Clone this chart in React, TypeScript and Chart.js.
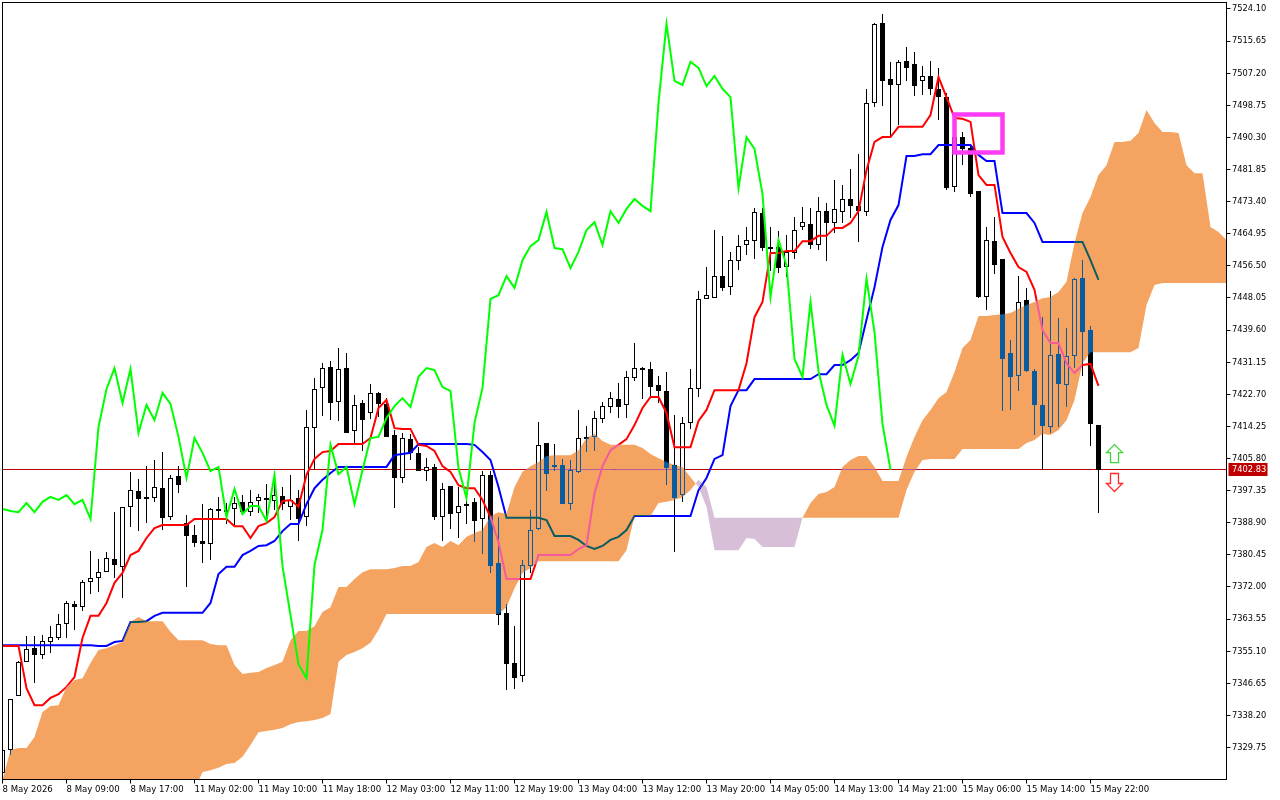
import { useEffect, useRef } from "react";
import Chart from "chart.js/auto";

const xTickLabels = [
  "8 May 2026", "8 May 09:00", "8 May 17:00", "11 May 02:00", "11 May 10:00", "11 May 18:00",
  "12 May 03:00", "12 May 11:00", "12 May 19:00", "13 May 04:00", "13 May 12:00", "13 May 20:00",
  "14 May 05:00", "14 May 13:00", "14 May 21:00", "15 May 06:00", "15 May 14:00", "15 May 22:00",
];
const priceTicks = [
  7524.1, 7515.65, 7507.2, 7498.75, 7490.3, 7481.85, 7473.4, 7464.95, 7456.5, 7448.05, 7439.6, 7431.15,
  7422.7, 7414.25, 7405.8, 7397.35, 7388.9, 7380.45, 7372.0, 7363.55, 7355.1, 7346.65, 7338.2, 7329.75,
];
const lastPrice = 7402.83;

const opens = [
  7323.0, 7329.1, 7343.3, 7352.3, 7355.9, 7354.1, 7357.5, 7358.6, 7362.3, 7367.5, 7366.7, 7373.3, 7374.4, 7375.9, 7379.4, 7377.3,
  7393.1, 7397.3, 7395.7, 7395.4, 7398.0, 7390.4, 7401.2, 7388.8, 7385.7, 7384.1, 7383.3, 7392.5, 7392.3, 7392.5, 7394.4, 7391.7,
  7394.6, 7395.4, 7394.6, 7395.9, 7393.1, 7395.4, 7390.4, 7413.8, 7424.4, 7429.9, 7420.7, 7429.6, 7413.1, 7420.4, 7417.8, 7423.1,
  7420.2, 7412.0, 7400.7, 7410.9, 7407.3, 7402.5, 7403.6, 7390.4, 7398.6, 7391.5, 7393.8, 7394.4, 7389.9, 7401.5, 7378.3, 7365.2,
  7352.0, 7348.6, 7377.5, 7387.3, 7409.9, 7404.1, 7404.1, 7393.8, 7402.3, 7410.9, 7411.5, 7416.2, 7419.4, 7421.5, 7419.9, 7427.0,
  7429.6, 7429.4, 7425.2, 7423.6, 7404.1, 7396.2, 7415.2, 7424.1, 7447.8, 7448.0, 7453.8, 7450.9, 7457.8, 7462.0, 7463.0, 7470.4,
  7461.5, 7461.5, 7456.2, 7459.9, 7466.7, 7467.5, 7462.0, 7470.9, 7467.8, 7470.7, 7474.1, 7472.3, 7470.7, 7499.4, 7520.4, 7505.7,
  7504.1, 7510.4, 7509.6, 7505.2, 7506.5, 7503.1, 7500.9, 7477.3, 7490.4, 7487.5, 7476.2, 7448.3, 7463.0, 7458.3, 7433.6, 7427.5,
  7447.5, 7428.8, 7419.9, 7414.1, 7433.3, 7425.2, 7432.8, 7453.3, 7439.6, 7414.6,
];
const highs = [
  7329.1, 7342.5, 7352.5, 7359.1, 7359.1, 7359.4, 7361.7, 7364.9, 7368.3, 7368.3, 7373.8, 7381.5, 7379.4, 7381.2, 7391.7, 7393.1,
  7402.3, 7400.4, 7403.8, 7405.4, 7407.5, 7401.5, 7403.8, 7390.9, 7388.3, 7393.8, 7392.8, 7395.7, 7394.1, 7395.7, 7396.2, 7397.5,
  7396.5, 7399.1, 7401.7, 7398.3, 7401.5, 7397.5, 7418.6, 7427.0, 7430.9, 7431.5, 7434.9, 7433.6, 7422.5, 7421.2, 7425.4, 7423.3,
  7421.7, 7413.3, 7412.5, 7412.3, 7408.8, 7405.9, 7404.4, 7399.4, 7398.6, 7398.3, 7395.7, 7395.4, 7402.5, 7402.5, 7390.4, 7367.5,
  7361.7, 7379.1, 7392.3, 7415.4, 7409.9, 7409.6, 7405.7, 7405.4, 7418.6, 7414.4, 7418.3, 7420.7, 7423.3, 7425.7, 7428.8, 7436.2,
  7429.9, 7431.2, 7427.5, 7428.6, 7417.3, 7416.7, 7429.4, 7449.9, 7456.2, 7465.9, 7464.4, 7460.2, 7464.6, 7466.7, 7471.7, 7471.7,
  7466.7, 7465.7, 7464.6, 7469.4, 7472.0, 7471.7, 7474.6, 7473.1, 7479.1, 7477.8, 7482.0, 7485.9, 7503.1, 7520.4, 7522.8, 7510.2,
  7510.7, 7514.1, 7512.8, 7509.1, 7510.4, 7508.6, 7502.0, 7493.3, 7491.7, 7488.0, 7476.2, 7466.7, 7469.4, 7458.3, 7437.0, 7453.8,
  7450.7, 7429.4, 7443.0, 7449.9, 7442.8, 7440.2, 7453.3, 7458.0, 7440.7, 7414.6,
];
const lows = [
  7323.0, 7327.8, 7343.3, 7352.3, 7346.7, 7353.0, 7354.6, 7358.0, 7358.6, 7360.7, 7365.7, 7370.2, 7370.7, 7375.9, 7374.4, 7369.1,
  7387.8, 7386.7, 7388.8, 7394.4, 7387.0, 7389.6, 7396.7, 7372.0, 7382.5, 7378.3, 7379.1, 7389.6, 7388.6, 7388.3, 7391.5, 7390.7,
  7391.5, 7390.2, 7392.3, 7392.3, 7389.6, 7384.1, 7388.0, 7403.1, 7417.0, 7415.9, 7415.7, 7412.5, 7409.9, 7407.8, 7416.2, 7416.7,
  7411.5, 7392.8, 7399.4, 7405.4, 7402.5, 7399.9, 7389.6, 7384.1, 7387.3, 7384.9, 7388.6, 7383.8, 7380.7, 7375.7, 7362.0, 7344.9,
  7345.2, 7347.0, 7375.7, 7387.0, 7397.3, 7402.5, 7393.8, 7392.3, 7402.0, 7407.5, 7407.8, 7415.2, 7417.8, 7416.5, 7416.5, 7426.2,
  7421.5, 7422.0, 7420.4, 7398.8, 7381.2, 7394.4, 7413.6, 7422.0, 7447.8, 7448.0, 7449.9, 7448.8, 7455.4, 7459.4, 7458.3, 7460.4,
  7455.2, 7454.6, 7453.6, 7458.3, 7465.9, 7460.9, 7460.7, 7457.8, 7465.2, 7467.8, 7469.1, 7462.8, 7469.6, 7498.3, 7498.6, 7490.2,
  7493.6, 7505.2, 7501.2, 7501.5, 7501.5, 7494.9, 7476.5, 7475.9, 7483.0, 7474.6, 7448.0, 7444.9, 7454.4, 7418.3, 7418.6, 7423.6,
  7428.6, 7412.0, 7402.8, 7412.5, 7414.1, 7419.4, 7429.6, 7427.5, 7409.1, 7391.5,
];
const closes = [
  7329.1, 7342.5, 7352.3, 7355.7, 7354.1, 7357.8, 7358.8, 7362.3, 7367.8, 7366.7, 7373.3, 7374.4, 7375.9, 7379.6, 7377.8, 7393.1,
  7397.5, 7395.2, 7395.4, 7398.3, 7390.2, 7400.7, 7398.8, 7385.4, 7383.6, 7383.3, 7392.5, 7392.0, 7391.7, 7394.1, 7391.7, 7394.4,
  7395.7, 7394.9, 7396.2, 7393.8, 7394.9, 7389.9, 7414.1, 7424.1, 7429.6, 7420.4, 7429.4, 7412.5, 7419.9, 7415.9, 7423.1, 7420.2,
  7411.5, 7400.7, 7411.2, 7407.3, 7402.5, 7403.6, 7390.4, 7397.8, 7391.2, 7393.3, 7393.3, 7389.4, 7401.5, 7377.5, 7364.6, 7351.7,
  7348.0, 7377.8, 7387.0, 7409.4, 7401.7, 7403.6, 7393.8, 7402.8, 7411.2, 7411.5, 7416.5, 7419.6, 7421.7, 7419.4, 7427.3, 7429.6,
  7429.1, 7424.6, 7423.6, 7403.3, 7395.4, 7415.2, 7424.4, 7447.8, 7448.8, 7453.8, 7450.7, 7458.0, 7461.7, 7463.3, 7470.7, 7461.2,
  7460.9, 7455.9, 7460.2, 7465.9, 7468.0, 7462.0, 7470.9, 7467.8, 7471.5, 7474.1, 7472.3, 7470.9, 7499.4, 7520.2, 7505.2, 7504.1,
  7510.2, 7508.6, 7503.8, 7506.5, 7503.1, 7500.9, 7477.0, 7490.4, 7487.3, 7475.4, 7448.3, 7463.3, 7456.7, 7432.0, 7427.3, 7447.0,
  7428.8, 7419.9, 7414.4, 7433.1, 7425.4, 7432.8, 7453.1, 7439.1, 7414.9, 7402.83,
];

const tenkan = [
  7356.5, 7356.5, 7356.5, 7345.4, 7340.9, 7340.9, 7342.8, 7343.8, 7345.7, 7348.3, 7358.6, 7364.4, 7364.4, 7367.8, 7373.1, 7375.7,
  7380.4, 7381.5, 7384.9, 7387.5, 7388.3, 7388.3, 7388.3, 7388.3, 7389.9, 7389.9, 7389.9, 7389.9, 7389.9, 7388.0, 7388.0, 7384.9,
  7388.0, 7388.8, 7390.4, 7394.6, 7394.9, 7393.1, 7401.5, 7405.7, 7407.5, 7407.8, 7409.6, 7409.6, 7409.6, 7409.6, 7411.2, 7419.1,
  7421.2, 7413.8, 7413.6, 7413.6, 7409.4, 7409.1, 7407.8, 7403.8, 7402.3, 7398.8, 7398.0, 7398.0, 7394.9, 7390.4, 7383.8, 7374.1,
  7374.1, 7374.1, 7374.1, 7380.4, 7380.4, 7380.4, 7380.4, 7380.4, 7382.0, 7383.0, 7396.7, 7403.8, 7408.0, 7409.4, 7410.9, 7414.6,
  7419.1, 7422.0, 7422.0, 7417.8, 7408.8, 7408.8, 7408.8, 7415.7, 7418.6, 7423.8, 7423.8, 7423.8, 7423.8, 7430.9, 7443.0, 7447.0,
  7459.9, 7459.9, 7460.4, 7460.4, 7463.0, 7463.0, 7464.4, 7464.4, 7466.5, 7466.5, 7467.8, 7470.9, 7481.7, 7489.1, 7490.4, 7490.4,
  7493.1, 7493.1, 7493.1, 7493.1, 7496.2, 7506.2, 7500.9, 7495.4, 7495.2, 7494.4, 7480.4, 7477.8, 7477.8, 7464.1, 7459.9, 7456.2,
  7454.9, 7450.2, 7439.6, 7436.2, 7436.2, 7430.9, 7428.3, 7430.4, 7430.7, 7424.9,
];
const kijun = [
  7356.7, 7356.7, 7356.7, 7356.7, 7356.7, 7356.7, 7356.7, 7356.7, 7356.7, 7356.7, 7356.7, 7356.7, 7356.5, 7356.5, 7357.5, 7357.8,
  7362.8, 7362.8, 7363.0, 7364.4, 7365.2, 7365.2, 7365.2, 7365.2, 7365.2, 7365.2, 7367.8, 7375.4, 7377.3, 7377.3, 7380.4, 7381.5,
  7382.8, 7383.0, 7384.1, 7386.7, 7388.6, 7388.6, 7393.8, 7398.0, 7400.2, 7402.0, 7403.6, 7403.6, 7403.6, 7403.6, 7403.6, 7403.6,
  7403.6, 7406.7, 7407.0, 7407.3, 7409.6, 7409.6, 7409.6, 7409.6, 7409.6, 7409.6, 7409.6, 7409.4, 7407.5, 7405.4, 7398.3, 7390.2,
  7390.2, 7390.2, 7390.2, 7390.2, 7389.6, 7385.4, 7385.4, 7385.4, 7384.4, 7382.8, 7382.0, 7382.8, 7384.4, 7385.2, 7387.0, 7390.7,
  7390.7, 7390.7, 7390.7, 7390.7, 7390.7, 7390.7, 7390.7, 7397.5, 7400.7, 7405.7, 7406.7, 7419.6, 7423.8, 7423.8, 7426.7, 7426.7,
  7426.7, 7426.7, 7426.7, 7426.7, 7426.7, 7426.7, 7428.0, 7428.0, 7430.4, 7430.4, 7431.7, 7433.6, 7442.3, 7450.9, 7461.5, 7468.6,
  7472.5, 7485.4, 7485.4, 7485.9, 7485.9, 7488.3, 7488.3, 7488.3, 7488.3, 7488.3, 7485.7, 7484.1, 7484.1, 7470.4, 7470.4, 7470.4,
  7470.4, 7467.8, 7462.8, 7462.8, 7462.8, 7462.8, 7462.8, 7462.8, 7458.0, 7452.8,
];
const chikou = [
  7392.5, 7392.0, 7391.7, 7394.1, 7391.7, 7394.4, 7395.7, 7394.9, 7396.2, 7393.8, 7394.9, 7389.9, 7414.1, 7424.1, 7429.6, 7420.4,
  7429.4, 7412.5, 7419.9, 7415.9, 7423.1, 7420.2, 7411.5, 7400.7, 7411.2, 7407.3, 7402.5, 7403.6, 7390.4, 7397.8, 7391.2, 7393.3,
  7393.3, 7389.4, 7401.5, 7377.5, 7364.6, 7351.7, 7348.0, 7377.8, 7387.0, 7409.4, 7401.7, 7403.6, 7393.8, 7402.8, 7411.2, 7411.5,
  7416.5, 7419.6, 7421.7, 7419.4, 7427.3, 7429.6, 7429.1, 7424.6, 7423.6, 7403.3, 7395.4, 7415.2, 7424.4, 7447.8, 7448.8, 7453.8,
  7450.7, 7458.0, 7461.7, 7463.3, 7470.7, 7461.2, 7460.9, 7455.9, 7460.2, 7465.9, 7468.0, 7462.0, 7470.9, 7467.8, 7471.5, 7474.1,
  7472.3, 7470.9, 7499.4, 7520.2, 7505.2, 7504.1, 7510.2, 7508.6, 7503.8, 7506.5, 7503.1, 7500.9, 7477.0, 7490.4, 7487.3, 7475.4,
  7448.3, 7463.3, 7456.7, 7432.0, 7427.3, 7447.0, 7428.8, 7419.9, 7414.4, 7433.1, 7425.4, 7432.8, 7453.1, 7439.1, 7414.9, 7402.83,
];
const senkouA = [
  7321.2, 7329.1, 7329.6, 7329.6, 7332.5, 7339.1, 7340.7, 7340.9, 7345.7, 7347.5, 7348.0, 7352.0, 7355.4, 7355.9, 7356.7, 7357.5,
  7362.8, 7364.1, 7363.0, 7363.0, 7363.0, 7360.2, 7358.0, 7358.0, 7358.0, 7358.0, 7357.0, 7356.7, 7356.7, 7351.5, 7349.1, 7349.4,
  7349.6, 7350.7, 7351.5, 7352.3, 7358.0, 7360.4, 7360.4, 7361.7, 7365.4, 7366.7, 7372.0, 7372.0, 7374.1, 7375.9, 7376.7, 7376.7,
  7376.7, 7377.0, 7377.5, 7377.5, 7378.6, 7382.5, 7383.6, 7382.5, 7384.1, 7383.0, 7385.2, 7386.2, 7387.0, 7390.7, 7391.7, 7391.2,
  7398.3, 7402.3, 7403.8, 7404.9, 7406.5, 7406.7, 7406.7, 7406.7, 7408.0, 7411.2, 7412.3, 7410.4, 7409.4, 7409.4, 7409.4, 7409.4,
  7408.6, 7407.0, 7405.9, 7404.9, 7404.1, 7403.6, 7400.9, 7398.3, 7393.1, 7381.7, 7381.7, 7381.7, 7381.7, 7384.9, 7384.6, 7382.5,
  7382.5, 7382.5, 7382.5, 7382.5, 7390.2, 7394.1, 7396.5, 7397.0, 7398.3, 7403.6, 7405.4, 7406.5, 7406.5, 7403.6, 7399.9, 7399.9,
  7399.9, 7406.2, 7411.5, 7415.9, 7418.6, 7421.7, 7423.3, 7428.6, 7434.9, 7437.0, 7443.3, 7443.3, 7443.6, 7443.8, 7444.1, 7445.2,
  7446.2, 7447.0, 7448.0, 7448.3, 7449.6, 7452.3, 7462.5, 7470.4, 7474.6, 7480.4, 7483.0, 7489.1, 7489.1, 7489.4, 7491.5, 7497.5,
  7494.1, 7491.7, 7491.7, 7491.5, 7483.0, 7480.9, 7480.9, 7466.7, 7465.4, 7463.3,
];
const senkouB = [
  7318.6, 7318.6, 7318.6, 7318.6, 7318.6, 7318.6, 7318.6, 7318.6, 7318.6, 7318.6, 7318.6, 7318.6, 7318.6, 7318.6, 7318.6, 7318.6,
  7318.6, 7318.6, 7318.6, 7318.6, 7318.6, 7318.6, 7318.6, 7318.6, 7318.6, 7323.3, 7323.8, 7324.4, 7325.4, 7325.7, 7327.3, 7330.4,
  7333.8, 7334.1, 7334.4, 7334.9, 7335.9, 7336.5, 7336.7, 7337.0, 7337.5, 7338.6, 7352.3, 7354.1, 7354.9, 7355.9, 7357.3, 7360.7,
  7364.9, 7364.9, 7364.9, 7364.9, 7364.9, 7364.9, 7364.9, 7364.9, 7364.9, 7364.9, 7364.9, 7364.9, 7364.9, 7364.9, 7364.9, 7366.7,
  7371.7, 7375.7, 7377.0, 7378.8, 7378.8, 7378.8, 7378.8, 7378.8, 7378.8, 7378.8, 7378.8, 7378.8, 7378.8, 7378.8, 7381.7, 7390.7,
  7390.7, 7390.7, 7394.1, 7394.4, 7394.9, 7395.7, 7397.5, 7400.2, 7398.3, 7390.2, 7390.2, 7390.2, 7390.2, 7390.2, 7390.2, 7390.2,
  7390.2, 7390.2, 7390.2, 7390.2, 7390.2, 7390.2, 7390.2, 7390.2, 7390.2, 7390.2, 7390.2, 7390.2, 7390.2, 7390.2, 7390.2, 7390.2,
  7390.2, 7397.5, 7402.3, 7405.4, 7405.7, 7405.7, 7405.7, 7405.7, 7408.3, 7408.3, 7408.3, 7408.3, 7408.3, 7408.3, 7408.3, 7408.3,
  7409.9, 7410.7, 7412.3, 7412.0, 7413.3, 7415.9, 7421.2, 7430.9, 7433.8, 7433.8, 7433.8, 7433.8, 7433.8, 7433.8, 7434.9, 7446.2,
  7451.5, 7452.0, 7452.0, 7452.0, 7452.0, 7452.0, 7452.0, 7452.0, 7452.0, 7452.0,
];

// drawn object on the chart: bar index from/to and price from/to
const boxBars = [119, 125];
const boxPrices = [7496.34, 7486.34];
const arrowBar = 139;
const arrowUpPrice = 7407.1;
const arrowDownPrice = 7399.5;

const barIndexes = senkouA.map((_, i) => i);
const X_FONT = { family: "'DejaVu Sans Condensed', 'DejaVu Sans'", size: 9.5 };
const Y_FONT = { family: "'DejaVu Sans Condensed', 'DejaVu Sans'", size: 9.2 };

type CloudRun = { up: boolean; top: number[][]; bottom: number[][] };

// split the span between senkou A and B where the two cross
function cloudRuns(chart: any): CloudRun[] {
  const { x, y } = chart.scales;
  const runs: CloudRun[] = [];
  let run: CloudRun = { up: senkouA[0] >= senkouB[0], top: [], bottom: [] };
  senkouA.forEach((sa, i) => {
    const sb = senkouB[i];
    if (i > 0) {
      const d0 = senkouA[i - 1] - senkouB[i - 1];
      const d1 = sa - sb;
      if (d0 >= 0 !== d1 >= 0) {
        const t = d0 / (d0 - d1);
        const cross = [x.getPixelForValue(i - 1 + t), y.getPixelForValue(senkouA[i - 1] + (sa - senkouA[i - 1]) * t)];
        run.top.push(cross);
        run.bottom.push(cross);
        runs.push(run);
        run = { up: d1 >= 0, top: [cross], bottom: [cross] };
      }
    }
    run.top.push([x.getPixelForValue(i), y.getPixelForValue(sa)]);
    run.bottom.push([x.getPixelForValue(i), y.getPixelForValue(sb)]);
  });
  runs.push(run);
  return runs;
}

function addRun(ctx: CanvasRenderingContext2D, run: CloudRun) {
  run.top.forEach((p, i) => (i ? ctx.lineTo(p[0], p[1]) : ctx.moveTo(p[0], p[1])));
  [...run.bottom].reverse().forEach((p) => ctx.lineTo(p[0], p[1]));
  ctx.closePath();
}

function drawArrow(ctx: CanvasRenderingContext2D, x: number, y: number, s: number, color: string) {
  ctx.save();
  ctx.strokeStyle = color;
  ctx.fillStyle = "#fff";
  ctx.lineWidth = 1.3;
  ctx.beginPath();
  ctx.moveTo(x - 4, y - 9 * s);
  ctx.lineTo(x + 4, y - 9 * s);
  ctx.lineTo(x + 4, y + 1 * s);
  ctx.lineTo(x + 8, y + 1 * s);
  ctx.lineTo(x, y + 9 * s);
  ctx.lineTo(x - 8, y + 1 * s);
  ctx.lineTo(x - 4, y + 1 * s);
  ctx.closePath();
  ctx.fill();
  ctx.stroke();
  ctx.restore();
}

const crispBars = {
  id: "crispBars",
  afterDatasetsUpdate(chart: any) {
    chart.getSortedVisibleDatasetMetas().forEach((meta: any) => {
      if (meta.type !== "bar") return;
      meta.data.forEach((el: any) => {
        el.y = Math.round(el.y);
        el.base = Math.round(el.base);
        if (meta.index === 1 && Math.abs(el.base - el.y) < 2) el.base = el.y + 2;
      });
    });
  },
};

// MT5 paints the kumo in XOR mode: candles and tenkan/kijun under it change colour, chikou is on top.
const ichimokuCloud = {
  id: "ichimokuCloud",
  beforeDatasetDraw(chart: any, args: any) {
    const { ctx, chartArea: a } = chart;
    const ds = chart.data.datasets[args.index];
    if (ds.paintCloud) {
      ctx.save();
      ctx.beginPath();
      ctx.rect(a.left, a.top, a.right - a.left, a.bottom - a.top);
      ctx.clip();
      ctx.globalCompositeOperation = "difference";
      cloudRuns(chart).forEach((run) => {
        ctx.fillStyle = run.up ? "rgb(11,91,159)" : "rgb(39,64,39)";
        ctx.beginPath();
        addRun(ctx, run);
        ctx.fill();
      });
      ctx.restore();
    }
    if (ds.cloudClip) {
      ctx.save();
      ctx.beginPath();
      if (ds.cloudClip === "outside") ctx.rect(0, 0, chart.width, chart.height);
      cloudRuns(chart)
        .filter((run) => run.up)
        .forEach((run) => addRun(ctx, run));
      ctx.clip(ds.cloudClip === "outside" ? "evenodd" : "nonzero");
    }
  },
  afterDatasetDraw(chart: any, args: any) {
    if (chart.data.datasets[args.index].cloudClip) chart.ctx.restore();
  },
  afterDatasetsDraw(chart: any) {
    const { ctx, scales } = chart;
    const px = (i: number) => scales.x.getPixelForValue(i);
    const py = (v: number) => scales.y.getPixelForValue(v);
    ctx.save();
    ctx.strokeStyle = "#ff3cf5";
    ctx.lineWidth = 4.5;
    ctx.strokeRect(
      px(boxBars[0]),
      py(boxPrices[0]),
      px(boxBars[1]) - px(boxBars[0]),
      py(boxPrices[1]) - py(boxPrices[0])
    );
    ctx.restore();
    drawArrow(ctx, px(arrowBar), py(arrowUpPrice), -1, "#3ad63a");
    drawArrow(ctx, px(arrowBar), py(arrowDownPrice), 1, "#ff2a2a");
  },
};

const chartFrame = {
  id: "chartFrame",
  beforeDraw(chart: any) {
    chart.ctx.save();
    chart.ctx.fillStyle = "#fff";
    chart.ctx.fillRect(0, 0, chart.width, chart.height);
    chart.ctx.restore();
  },
  beforeDatasetsDraw(chart: any) {
    const { ctx, chartArea: a, scales } = chart;
    const y = Math.floor(scales.y.getPixelForValue(lastPrice)) + 0.5;
    ctx.save();
    ctx.strokeStyle = "#c00000";
    ctx.lineWidth = 1;
    ctx.beginPath();
    ctx.moveTo(a.left, y);
    ctx.lineTo(a.right, y);
    ctx.stroke();
    ctx.restore();
  },
  afterDraw(chart: any) {
    const { ctx, chartArea: a, scales } = chart;
    ctx.save();
    ctx.strokeStyle = "#000";
    ctx.lineWidth = 1;
    ctx.strokeRect(a.left, a.top, a.right - a.left, a.bottom - a.top);
    const y = Math.floor(scales.y.getPixelForValue(lastPrice)) + 0.5;
    ctx.fillStyle = "#c00000";
    ctx.fillRect(a.right + 2, y - 6.5, 39, 13);
    ctx.fillStyle = "#fff";
    ctx.font = `${Y_FONT.size}px ${Y_FONT.family}`;
    ctx.textBaseline = "middle";
    ctx.fillText(lastPrice.toFixed(2), a.right + 5.5, y + 0.5);
    ctx.restore();
  },
};

const lineStyle = { type: "line", borderWidth: 2, pointRadius: 0, tension: 0 };

export default function App() {
  const canvasRef = useRef<HTMLCanvasElement | null>(null);

  useEffect(() => {
    if (!canvasRef.current) return;
    const chart = new Chart(canvasRef.current, {
      type: "bar",
      data: {
        labels: barIndexes,
        datasets: [
          {
            label: "Wicks",
            data: lows.map((l, i) => [l, highs[i]]),
            backgroundColor: "#000",
            borderWidth: 0,
            barThickness: 1,
            inflateAmount: 0,
            grouped: false,
            order: 8,
          },
          {
            label: "Bodies",
            data: opens.map((o, i) => [o, closes[i]]),
            backgroundColor: opens.map((o, i) => (closes[i] > o ? "#fff" : "#000")),
            borderColor: "#000",
            borderWidth: 1,
            borderSkipped: false,
            barThickness: 5,
            inflateAmount: 0,
            grouped: false,
            order: 7,
          },
          { ...lineStyle, label: "Kijun-sen", data: kijun, borderColor: "#0000ff", cloudClip: "outside", order: 6 },
          { ...lineStyle, label: "Tenkan-sen", data: tenkan, borderColor: "#ff0000", cloudClip: "outside", order: 5 },
          { ...lineStyle, label: "Kijun-sen in cloud", data: kijun, borderColor: "rgb(11,91,96)", cloudClip: "inside", paintCloud: true, order: 4 },
          { ...lineStyle, label: "Tenkan-sen in cloud", data: tenkan, borderColor: "rgb(244,91,159)", cloudClip: "inside", order: 3 },
          { ...lineStyle, label: "Chikou Span", data: chikou, borderColor: "#00ff00", order: 2 },
        ],
      } as any,
      options: {
        animation: false,
        responsive: false,
        devicePixelRatio: 1,
        events: [],
        layout: { padding: { left: 2.5, top: 2.5, right: 0, bottom: 0 } },
        plugins: { legend: { display: false }, tooltip: { enabled: false } },
        scales: {
          x: {
            type: "category",
            offset: false,
            afterBuildTicks: (scale: any) => {
              scale.ticks = scale.ticks.filter((t: any) => t.value % 8 === 0 && t.value / 8 < xTickLabels.length);
            },
            afterFit: (scale: any) => {
              scale.height = 20.5;
              scale.paddingLeft = 0;
              scale.paddingRight = 0;
            },
            grid: { drawOnChartArea: false, offset: false, tickLength: 4, tickColor: "#000" },
            border: { color: "#000" },
            ticks: {
              autoSkip: false,
              maxRotation: 0,
              align: "start",
              padding: 0,
              color: "#000",
              font: X_FONT,
              callback: (v: any) => xTickLabels[Number(v) / 8],
            },
          },
          y: {
            position: "right",
            min: 7321.34,
            max: 7525.81,
            afterBuildTicks: (scale: any) => {
              scale.ticks = priceTicks.map((value) => ({ value }));
            },
            afterFit: (scale: any) => {
              scale.width = 53.5;
              scale.paddingTop = 0;
              scale.paddingBottom = 0;
            },
            grid: { drawOnChartArea: false, tickLength: 4, tickColor: "#000" },
            border: { color: "#000" },
            ticks: {
              padding: 1.5,
              color: "#000",
              font: Y_FONT,
              callback: (v: any) => Number(v).toFixed(2),
            },
          },
        },
      } as any,
      plugins: [chartFrame, crispBars, ichimokuCloud],
    });
    return () => chart.destroy();
  }, []);

  return (
    <div style={{ position: "fixed", left: 0, top: 0, width: 1280, height: 800, background: "#fff" }}>
      <canvas ref={canvasRef} width={1280} height={800} style={{ display: "block" }} />
    </div>
  );
}
